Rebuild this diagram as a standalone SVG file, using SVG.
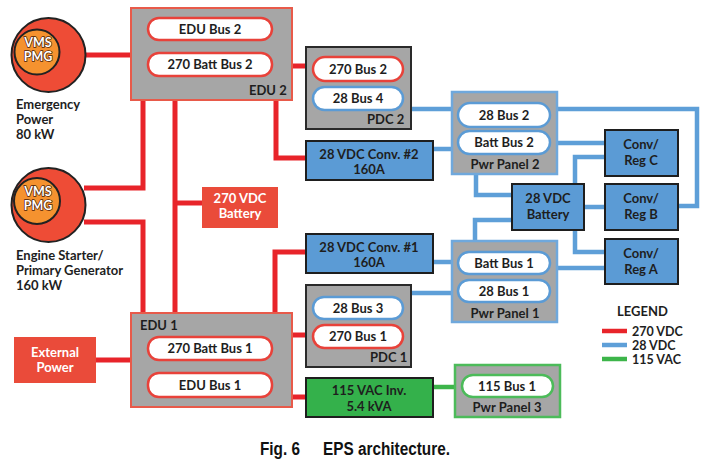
<svg xmlns="http://www.w3.org/2000/svg" width="720" height="466" viewBox="0 0 720 466">
<style>
text{font-family:Lato,"Open Sans","Liberation Sans",sans-serif;font-weight:700;font-size:13px;fill:#1e1e1e}
.c{text-anchor:middle}
.w{fill:#ffffff}
.r{fill:none;stroke:#e8242a;stroke-width:5}
.b{fill:none;stroke:#5e9fd8;stroke-width:4.5}
.g{fill:none;stroke:#3db54a;stroke-width:4.5}
.edu{fill:#a6a6a6;stroke:#e85a4a;stroke-width:2}
.pdc{fill:#a6a6a6;stroke:#2a2a2a;stroke-width:2}
.pp{fill:#a6a6a6;stroke:#6fa8dc;stroke-width:2.5}
.pp3{fill:#a6a6a6;stroke:#4cbb5a;stroke-width:2.5}
.pr{fill:#fff;stroke:#e8423a;stroke-width:2.5}
.pb{fill:#fff;stroke:#5b9bd5;stroke-width:2.5}
.pg{fill:#fff;stroke:#4cbb5a;stroke-width:2.5}
.rb{fill:#ea4b3a}
.bb{fill:#5b9bd5;stroke:#1e1e1e;stroke-width:2}
.gb{fill:#34b14b;stroke:#1e1e1e;stroke-width:2}
.outer{fill:#ee4c36;stroke:#222;stroke-width:2}
.inner{fill:#f5922f;stroke:#222;stroke-width:2}
.vm{fill:#fff;stroke:#4a2008;stroke-width:1.4;paint-order:stroke;font-size:12.5px}
.lg{font-size:12.5px}
.cap{font-family:"Liberation Sans",Arial,sans-serif;font-size:18px;font-weight:700;fill:#111}
</style>
<g id="connectors">
<path class="r" d="M84,55 H131"/>
<path class="r" d="M84,188 H143 V100"/>
<path class="r" d="M84,222 H143 V313"/>
<path class="r" d="M175,100 V313"/>
<path class="r" d="M175,203 H202"/>
<path class="r" d="M292,66 H306"/>
<path class="r" d="M276,100 V158 H306"/>
<path class="r" d="M275,313 V252 H306"/>
<path class="r" d="M292,335 H306"/>
<path class="r" d="M292,397 H306"/>
<path class="r" d="M96,360 H131"/>
<path class="b" d="M411,109 H452"/>
<path class="b" d="M433,149 H452"/>
<path class="b" d="M557,109 H697 V206 H678"/>
<path class="b" d="M557,143 H605"/>
<path class="b" d="M476,174 V195 H511"/>
<path class="b" d="M575,184 V157 H605"/>
<path class="b" d="M584,207 H605"/>
<path class="b" d="M575,230 V252 H605"/>
<path class="b" d="M511,220 H475 V241"/>
<path class="b" d="M557,268 H605"/>
<path class="b" d="M433,262 H452"/>
<path class="b" d="M411,293 H452"/>
<path class="g" d="M433,387 H455"/>
</g>
<g id="gen1">
<circle class="outer" cx="48.5" cy="55" r="37"/>
<circle class="inner" cx="37" cy="52" r="22.5"/>
<text class="c vm" x="38" y="47">VMS</text>
<text class="c vm" x="38" y="61">PMG</text>
<text x="16" y="109">Emergency</text>
<text x="16" y="124">Power</text>
<text x="16" y="139">80 kW</text>
</g>
<g id="gen2">
<circle class="outer" cx="48.5" cy="205" r="37"/>
<circle class="inner" cx="37" cy="201" r="23"/>
<text class="c vm" x="38" y="196">VMS</text>
<text class="c vm" x="38" y="210">PMG</text>
<text x="16" y="260">Engine Starter/</text>
<text x="16" y="275">Primary Generator</text>
<text x="16" y="290">160 kW</text>
</g>
<g id="edu2">
<rect class="edu" x="131" y="8" width="161" height="92"/>
<rect class="pr" x="148" y="18" width="124" height="22" rx="11"/>
<text class="c" x="210" y="34">EDU Bus 2</text>
<rect class="pr" x="148" y="53" width="124" height="23" rx="11"/>
<text class="c" x="210" y="69">270 Batt Bus 2</text>
<text x="249" y="95">EDU 2</text>
</g>
<g id="battery270">
<rect class="rb" x="202" y="187" width="76" height="41"/>
<text class="c w" x="240" y="203">270 VDC</text>
<text class="c w" x="240" y="218">Battery</text>
</g>
<g id="edu1">
<rect class="edu" x="131" y="313" width="161" height="94"/>
<text x="140" y="330">EDU 1</text>
<rect class="pr" x="148" y="337" width="124" height="23" rx="11"/>
<text class="c" x="210" y="353">270 Batt Bus 1</text>
<rect class="pr" x="148" y="373" width="124" height="24" rx="11"/>
<text class="c" x="210" y="390">EDU Bus 1</text>
</g>
<g id="external">
<rect class="rb" x="14" y="337" width="82" height="46"/>
<text class="c w" x="55" y="357">External</text>
<text class="c w" x="55" y="372">Power</text>
</g>
<g id="pdc2">
<rect class="pdc" x="306" y="47" width="105" height="82"/>
<rect class="pr" x="313" y="57" width="90" height="24" rx="12"/>
<text class="c" x="358" y="74">270 Bus 2</text>
<rect class="pb" x="313" y="87" width="90" height="23" rx="11.5"/>
<text class="c" x="358" y="103">28 Bus 4</text>
<text x="367" y="124">PDC 2</text>
</g>
<g id="conv2">
<rect class="bb" x="306" y="141" width="127" height="39"/>
<text class="c" x="369" y="159">28 VDC Conv. #2</text>
<text class="c" x="369" y="174">160A</text>
</g>
<g id="pwrpanel2">
<rect class="pp" x="452" y="92" width="105" height="82"/>
<rect class="pb" x="458" y="103" width="92" height="24" rx="12"/>
<text class="c" x="504" y="120">28 Bus 2</text>
<rect class="pb" x="458" y="131" width="92" height="23" rx="11.5"/>
<text class="c" x="504" y="147">Batt Bus 2</text>
<text class="c" x="505" y="169">Pwr Panel  2</text>
</g>
<g id="battery28">
<rect class="bb" x="512" y="184" width="72" height="46"/>
<text class="c" x="548" y="203">28 VDC</text>
<text class="c" x="548" y="219">Battery</text>
</g>
<g id="convC">
<rect class="bb" x="605" y="130" width="73" height="46"/>
<text class="c" x="641" y="149">Conv/</text>
<text class="c" x="641" y="165">Reg C</text>
</g>
<g id="convB">
<rect class="bb" x="605" y="184" width="73" height="46"/>
<text class="c" x="641" y="203">Conv/</text>
<text class="c" x="641" y="219">Reg B</text>
</g>
<g id="convA">
<rect class="bb" x="605" y="239" width="73" height="45"/>
<text class="c" x="641" y="258">Conv/</text>
<text class="c" x="641" y="274">Reg A</text>
</g>
<g id="conv1">
<rect class="bb" x="306" y="234" width="127" height="39"/>
<text class="c" x="369" y="252">28 VDC Conv. #1</text>
<text class="c" x="369" y="267">160A</text>
</g>
<g id="pwrpanel1">
<rect class="pp" x="452" y="241" width="105" height="81"/>
<rect class="pb" x="458" y="252" width="92" height="22" rx="11"/>
<text class="c" x="504" y="268">Batt Bus 1</text>
<rect class="pb" x="458" y="280" width="92" height="22" rx="11"/>
<text class="c" x="504" y="296">28 Bus 1</text>
<text class="c" x="505" y="318">Pwr Panel 1</text>
</g>
<g id="pdc1">
<rect class="pdc" x="306" y="285" width="105" height="82"/>
<rect class="pb" x="313" y="297" width="90" height="22" rx="11"/>
<text class="c" x="358" y="313">28 Bus 3</text>
<rect class="pr" x="313" y="325" width="90" height="23" rx="11.5"/>
<text class="c" x="358" y="341">270 Bus 1</text>
<text x="370" y="362">PDC 1</text>
</g>
<g id="inverter">
<rect class="gb" x="306" y="378" width="127" height="39"/>
<text class="c" x="369" y="395">115 VAC Inv.</text>
<text class="c" x="369" y="411">5.4 kVA</text>
</g>
<g id="pwrpanel3">
<rect class="pp3" x="455" y="365" width="105" height="52"/>
<rect class="pg" x="462" y="375" width="91" height="22" rx="11"/>
<text class="c" x="507" y="391">115 Bus 1</text>
<text class="c" x="507" y="412">Pwr Panel 3</text>
</g>
<g id="legend">
<text x="617" y="316">LEGEND</text>
<line x1="602" y1="331" x2="627" y2="331" stroke="#e8242a" stroke-width="4.5"/>
<line x1="602" y1="345" x2="627" y2="345" stroke="#5e9fd8" stroke-width="4.5"/>
<line x1="602" y1="359" x2="627" y2="359" stroke="#3db54a" stroke-width="4.5"/>
<text class="lg" x="632" y="335.5">270 VDC</text>
<text class="lg" x="632" y="349.5">28 VDC</text>
<text class="lg" x="632" y="363.5">115 VAC</text>
</g>
<text class="cap" x="260" y="455" textLength="40" lengthAdjust="spacingAndGlyphs">Fig. 6</text>
<text class="cap" x="323" y="455" textLength="127" lengthAdjust="spacingAndGlyphs">EPS architecture.</text>
</svg>
